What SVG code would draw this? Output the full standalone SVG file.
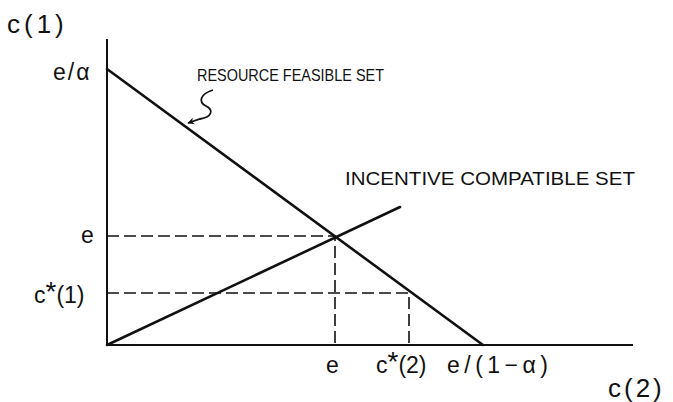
<svg xmlns="http://www.w3.org/2000/svg" width="673" height="402" viewBox="0 0 673 402">
<style>
text{font-family:"Liberation Sans",Arial,sans-serif;fill:#111}
.lbl{font-size:23px}
.big{font-size:26px}
.cap{font-size:17px}
.star{font-size:28px}
.axis{stroke:#111;stroke-width:2;fill:none}
.line{stroke:#111;stroke-width:2.6;fill:none;stroke-linecap:round}
.dash{stroke:#111;stroke-width:1.6;fill:none;stroke-dasharray:12 5}
</style>
<defs>
<marker id="ah" viewBox="0 0 10 10" refX="9" refY="5" markerWidth="8" markerHeight="7" orient="auto" markerUnits="userSpaceOnUse">
<path d="M0,0 L10,5 L0,10 L3,5 Z" fill="#111"/>
</marker>
</defs>
<g id="axes">
<path class="axis" d="M107,39 V345 H633"/>
</g>
<g id="connectors">
<path class="line" d="M107,69 L483,345"/>
<path class="line" d="M107,345 L400,207"/>
<path class="dash" d="M107,236 H335 V345"/>
<path class="dash" d="M107,293 H409 V345"/>
<path d="M213,90 C200,94 198,102 206,106 C214,110 212,117 200,119 L188,123" fill="none" stroke="#111" stroke-width="1.8" marker-end="url(#ah)"/>
</g>
<g id="labels">
<text class="big" x="7" y="33" letter-spacing="4">c(1)</text>
<text class="lbl" x="53" y="80" letter-spacing="2">e/α</text>
<text class="cap" x="197" y="81" textLength="187" lengthAdjust="spacingAndGlyphs">RESOURCE FEASIBLE SET</text>
<text class="cap" x="345" y="185" style="font-size:18px" textLength="290" lengthAdjust="spacingAndGlyphs">INCENTIVE COMPATIBLE SET</text>
<text class="lbl" x="81" y="243">e</text>
<text class="lbl" x="34" y="303">c<tspan class="star" dy="-2">*</tspan><tspan dy="2">(1)</tspan></text>
<text class="lbl" x="326" y="373">e</text>
<text class="lbl" x="376" y="373">c<tspan class="star" dy="-2">*</tspan><tspan dy="2">(2)</tspan></text>
<text class="lbl" x="447" y="373" textLength="101" lengthAdjust="spacing">e/(1−α)</text>
<text class="big" x="608" y="397" letter-spacing="3">c(2)</text>
</g>
</svg>
